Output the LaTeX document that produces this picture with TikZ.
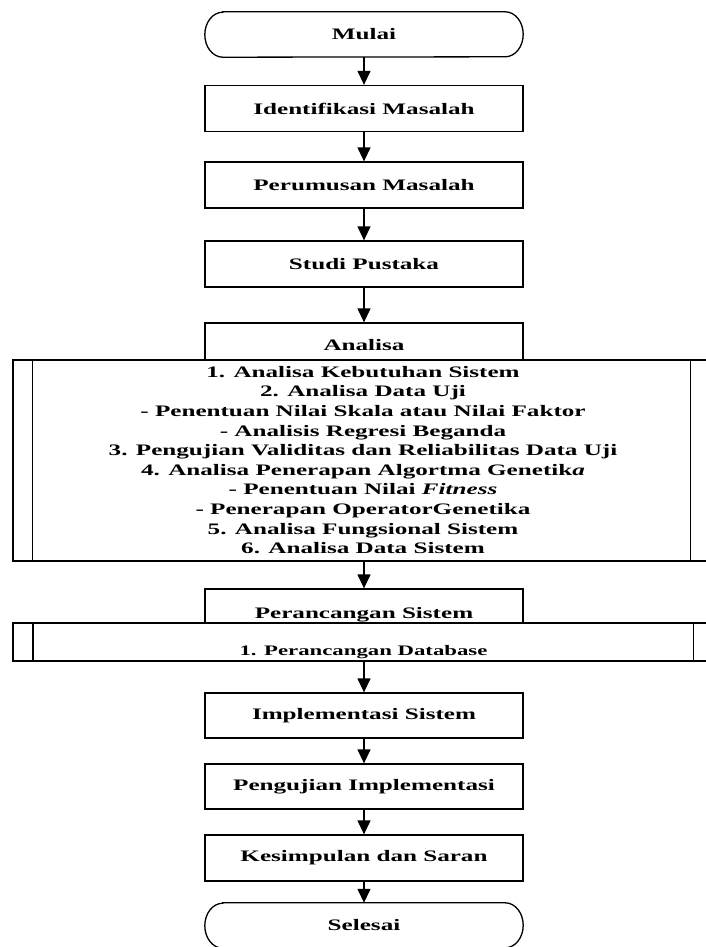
\documentclass[tikz,border=0pt]{standalone}
\usepackage{fontspec}
\setmainfont{Liberation Serif}[FakeStretch=1.57]
\usetikzlibrary{arrows.meta,calc}
\begin{document}
\begin{tikzpicture}[x=1pt,y=1pt,
  ln/.style={line width=1.3pt},
  bigfont/.style={font=\fontsize{16}{19.6}\selectfont\bfseries},
  flowbox/.style={draw, line width=1.3pt, minimum width=318pt, minimum height=46pt, inner sep=0pt, bigfont},
  termnode/.style={minimum width=318pt, minimum height=45pt, inner sep=0pt, bigfont},
  hdrbox/.style={draw, line width=1.3pt, minimum width=318pt, inner sep=0pt},
  widebox/.style={draw, line width=1.3pt, inner sep=0pt},
  plaintext/.style={inner sep=0pt, bigfont},
  arr/.style={line width=1.3pt, -{Triangle[length=14pt,width=13pt]}}
]
\useasboundingbox (0,0) rectangle (705,-947);

% terminals and process boxes
\node[termnode] (mulai) at (364,-34.5) {Mulai};
\draw[ln] ([xshift=18pt]mulai.north west) -- ([xshift=-18pt]mulai.north east)
  arc[start angle=90, end angle=-90, x radius=18pt, y radius=22.5pt]
  -- ([xshift=18pt]mulai.south west)
  arc[start angle=270, end angle=90, x radius=18pt, y radius=22.5pt] -- cycle;

\node[flowbox] (ident) at (364,-108.5) {Identifikasi Masalah};
\node[flowbox] (perum) at (364,-185) {Perumusan Masalah};
\node[flowbox] (studi) at (364,-264) {Studi Pustaka};

% Analisa
\node[hdrbox, minimum height=37pt] (anhdr) at (364,-341.5) {};
\node[plaintext, anchor=base] (anT) at (364,-350.7) {Analisa};
\node[widebox, minimum width=697pt, minimum height=201pt] (big) at (361.5,-460.5) {};
\draw[ln] ([xshift=20pt]big.north west) -- ([xshift=20pt]big.south west);
\draw[ln] ([xshift=-20pt]big.north east) -- ([xshift=-20pt]big.south east);
\node[plaintext, anchor=north, align=center] (list) at (363,-365.9) {%
1. Analisa Kebutuhan Sistem\\
2. Analisa Data Uji\\
- Penentuan Nilai Skala atau Nilai Faktor\\
- Analisis Regresi Beganda\\
3. Pengujian Validitas dan Reliabilitas Data Uji\\
4. Analisa Penerapan Algortma Genetik\textit{a}\\
- Penentuan Nilai \textit{Fitness}\\
- Penerapan OperatorGenetika\\
5. Analisa Fungsional Sistem\\
6. Analisa Data Sistem};

% Perancangan
\node[hdrbox, minimum height=34pt] (prhdr) at (364,-606) {};
\node[plaintext, anchor=base] (prT) at (364,-618) {Perancangan Sistem};
\node[widebox, minimum width=700pt, minimum height=38pt] (sub) at (363,-642) {};
\draw[ln] ([xshift=20.5pt]sub.north west) -- ([xshift=20.5pt]sub.south west);
\draw[ln] ([xshift=-20.5pt]sub.north east) -- ([xshift=-20.5pt]sub.south east);
\node[inner sep=0pt, font=\fontsize{14.5}{17}\selectfont\bfseries, anchor=base] (subT) at (363.5,-655) {1. Perancangan Database};

\node[flowbox, minimum height=45pt] (impl) at (364,-715.5) {Implementasi Sistem};
\node[flowbox, minimum height=45pt] (peng) at (364,-786.5) {Pengujian Implementasi};
\node[flowbox] (kes) at (364,-858) {Kesimpulan dan Saran};

\node[termnode] (selesai) at (364,-925.5) {Selesai};
\draw[ln] ([xshift=18pt]selesai.north west) -- ([xshift=-18pt]selesai.north east)
  arc[start angle=90, end angle=-90, x radius=18pt, y radius=22.5pt]
  -- ([xshift=18pt]selesai.south west)
  arc[start angle=270, end angle=90, x radius=18pt, y radius=22.5pt] -- cycle;

% connectors
\draw[arr] (mulai.south) -- (ident.north);
\draw[arr] (ident.south) -- (perum.north);
\draw[arr] (perum.south) -- (studi.north);
\draw[arr] (studi.south) -- (anhdr.north);
\draw[arr] (prhdr.north |- big.south) -- (prhdr.north);
\draw[arr] (impl.north |- sub.south) -- (impl.north);
\draw[arr] (impl.south) -- (peng.north);
\draw[arr] (peng.south) -- (kes.north);
\draw[arr] (kes.south) -- (selesai.north);
\end{tikzpicture}
\end{document}
